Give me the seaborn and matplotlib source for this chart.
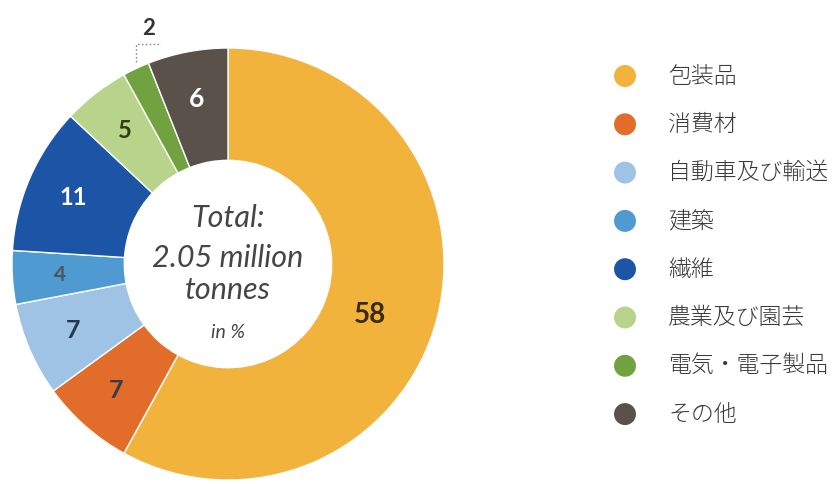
import numpy as np
import pandas as pd
import matplotlib
matplotlib.use("Agg")
import matplotlib.pyplot as plt
import seaborn as sns

# Plastic demand by application (share in %)
categories = ["包装品", "消費材", "自動車及び輸送", "建築", "繊維",
              "農業及び園芸", "電気・電子製品", "その他"]
shares = [58, 7, 7, 4, 11, 5, 2, 6]
value_labels = ["58", "7", "7", "4", "11", "5", "2", "6"]

colors = ["#F2B33D", "#E26C2A", "#9EC3E4", "#4F9AD0", "#1C55A5",
          "#B8D48A", "#70A33F", "#5B514B"]
label_colors = ["#3A2A10", "#3A3A48", "#2A3550", "#4D5560", "#FFFFFF",
                "#2F3D12", "#333333", "#FFFFFF"]
label_sizes = [20, 18, 18, 15, 17, 17, 16, 19]

center_lines = ["Total:", "2.05 million", "tonnes", "in %"]

sns.set_theme(style="white")
plt.rcParams["font.family"] = ["Lato", "Noto Sans CJK JP", "DejaVu Sans"]

W, H = 835, 484
fig = plt.figure(figsize=(W / 100, H / 100), dpi=100)
fig.patch.set_facecolor("white")

# donut axes: centre at (228, 264) px, outer radius 216 px
cx, cy, R = 228, 264, 216
span = 1.2
size = 2 * span * R
ax = fig.add_axes([(cx - size / 2) / W, ((H - cy) - size / 2) / H, size / W, size / H])

wedges, _ = ax.pie(
    shares, colors=colors, startangle=90, counterclock=False, radius=1.0,
    wedgeprops=dict(width=0.52, edgecolor="white", linewidth=1.0),
)
ax.set_xlim(-span, span)
ax.set_ylim(-span, span)
ax.set_aspect("equal")
ax.axis("off")

# value labels inside the ring
for i, (w, txt) in enumerate(zip(wedges, value_labels)):
    mid = (w.theta1 + w.theta2) / 2
    if txt == "2":
        # small slice: label outside with a dotted leader
        th = np.deg2rad(mid)
        x0, y0 = np.cos(th), np.sin(th)
        ytop = 1.02
        x1 = x0 + 0.115
        ax.plot([x0, x0, x1], [y0 + 0.03, ytop, ytop], color="#8A8A8A",
                lw=1.0, ls=(0, (1.2, 1.6)), clip_on=False)
        ax.text((x0 + x1) / 2, ytop + 0.07, txt, ha="center", va="center",
                fontsize=label_sizes[i], fontweight="bold",
                color=label_colors[i], clip_on=False)
        continue
    r = 0.78
    if txt == "58":
        r, mid = 0.70, mid - 5.4
    th = np.deg2rad(mid)
    ax.text(r * np.cos(th), r * np.sin(th), txt, ha="center", va="center",
            fontsize=label_sizes[i], fontweight="bold", color=label_colors[i])

# centre caption
center_y = [0.213, 0.028, -0.12, -0.315]
center_sz = [22, 22, 22, 14]
for t, y, s in zip(center_lines, center_y, center_sz):
    ax.text(0, y, t, ha="center", va="center", fontsize=s, style="italic",
            color="#454545")

# legend column in pixel coordinates
lax = fig.add_axes([0, 0, 1, 1])
lax.patch.set_alpha(0)

leg = pd.DataFrame({
    "category": categories,
    "x": 625.0,
    "y": 76 + np.arange(len(categories)) * 48.3,
})
sns.scatterplot(data=leg, x="x", y="y", hue="category", palette=colors,
                s=250, linewidth=0, legend=False, ax=lax)
lax.set_xlim(0, W)
lax.set_ylim(H, 0)
lax.axis("off")
for _, row in leg.iterrows():
    lax.text(668, row["y"], row["category"], ha="left", va="center",
             fontsize=16.5, color="#3A3A3A", fontweight="light",
             family=["Noto Sans CJK JP", "DejaVu Sans"])

fig.savefig("out.png", dpi=100, facecolor="white")
